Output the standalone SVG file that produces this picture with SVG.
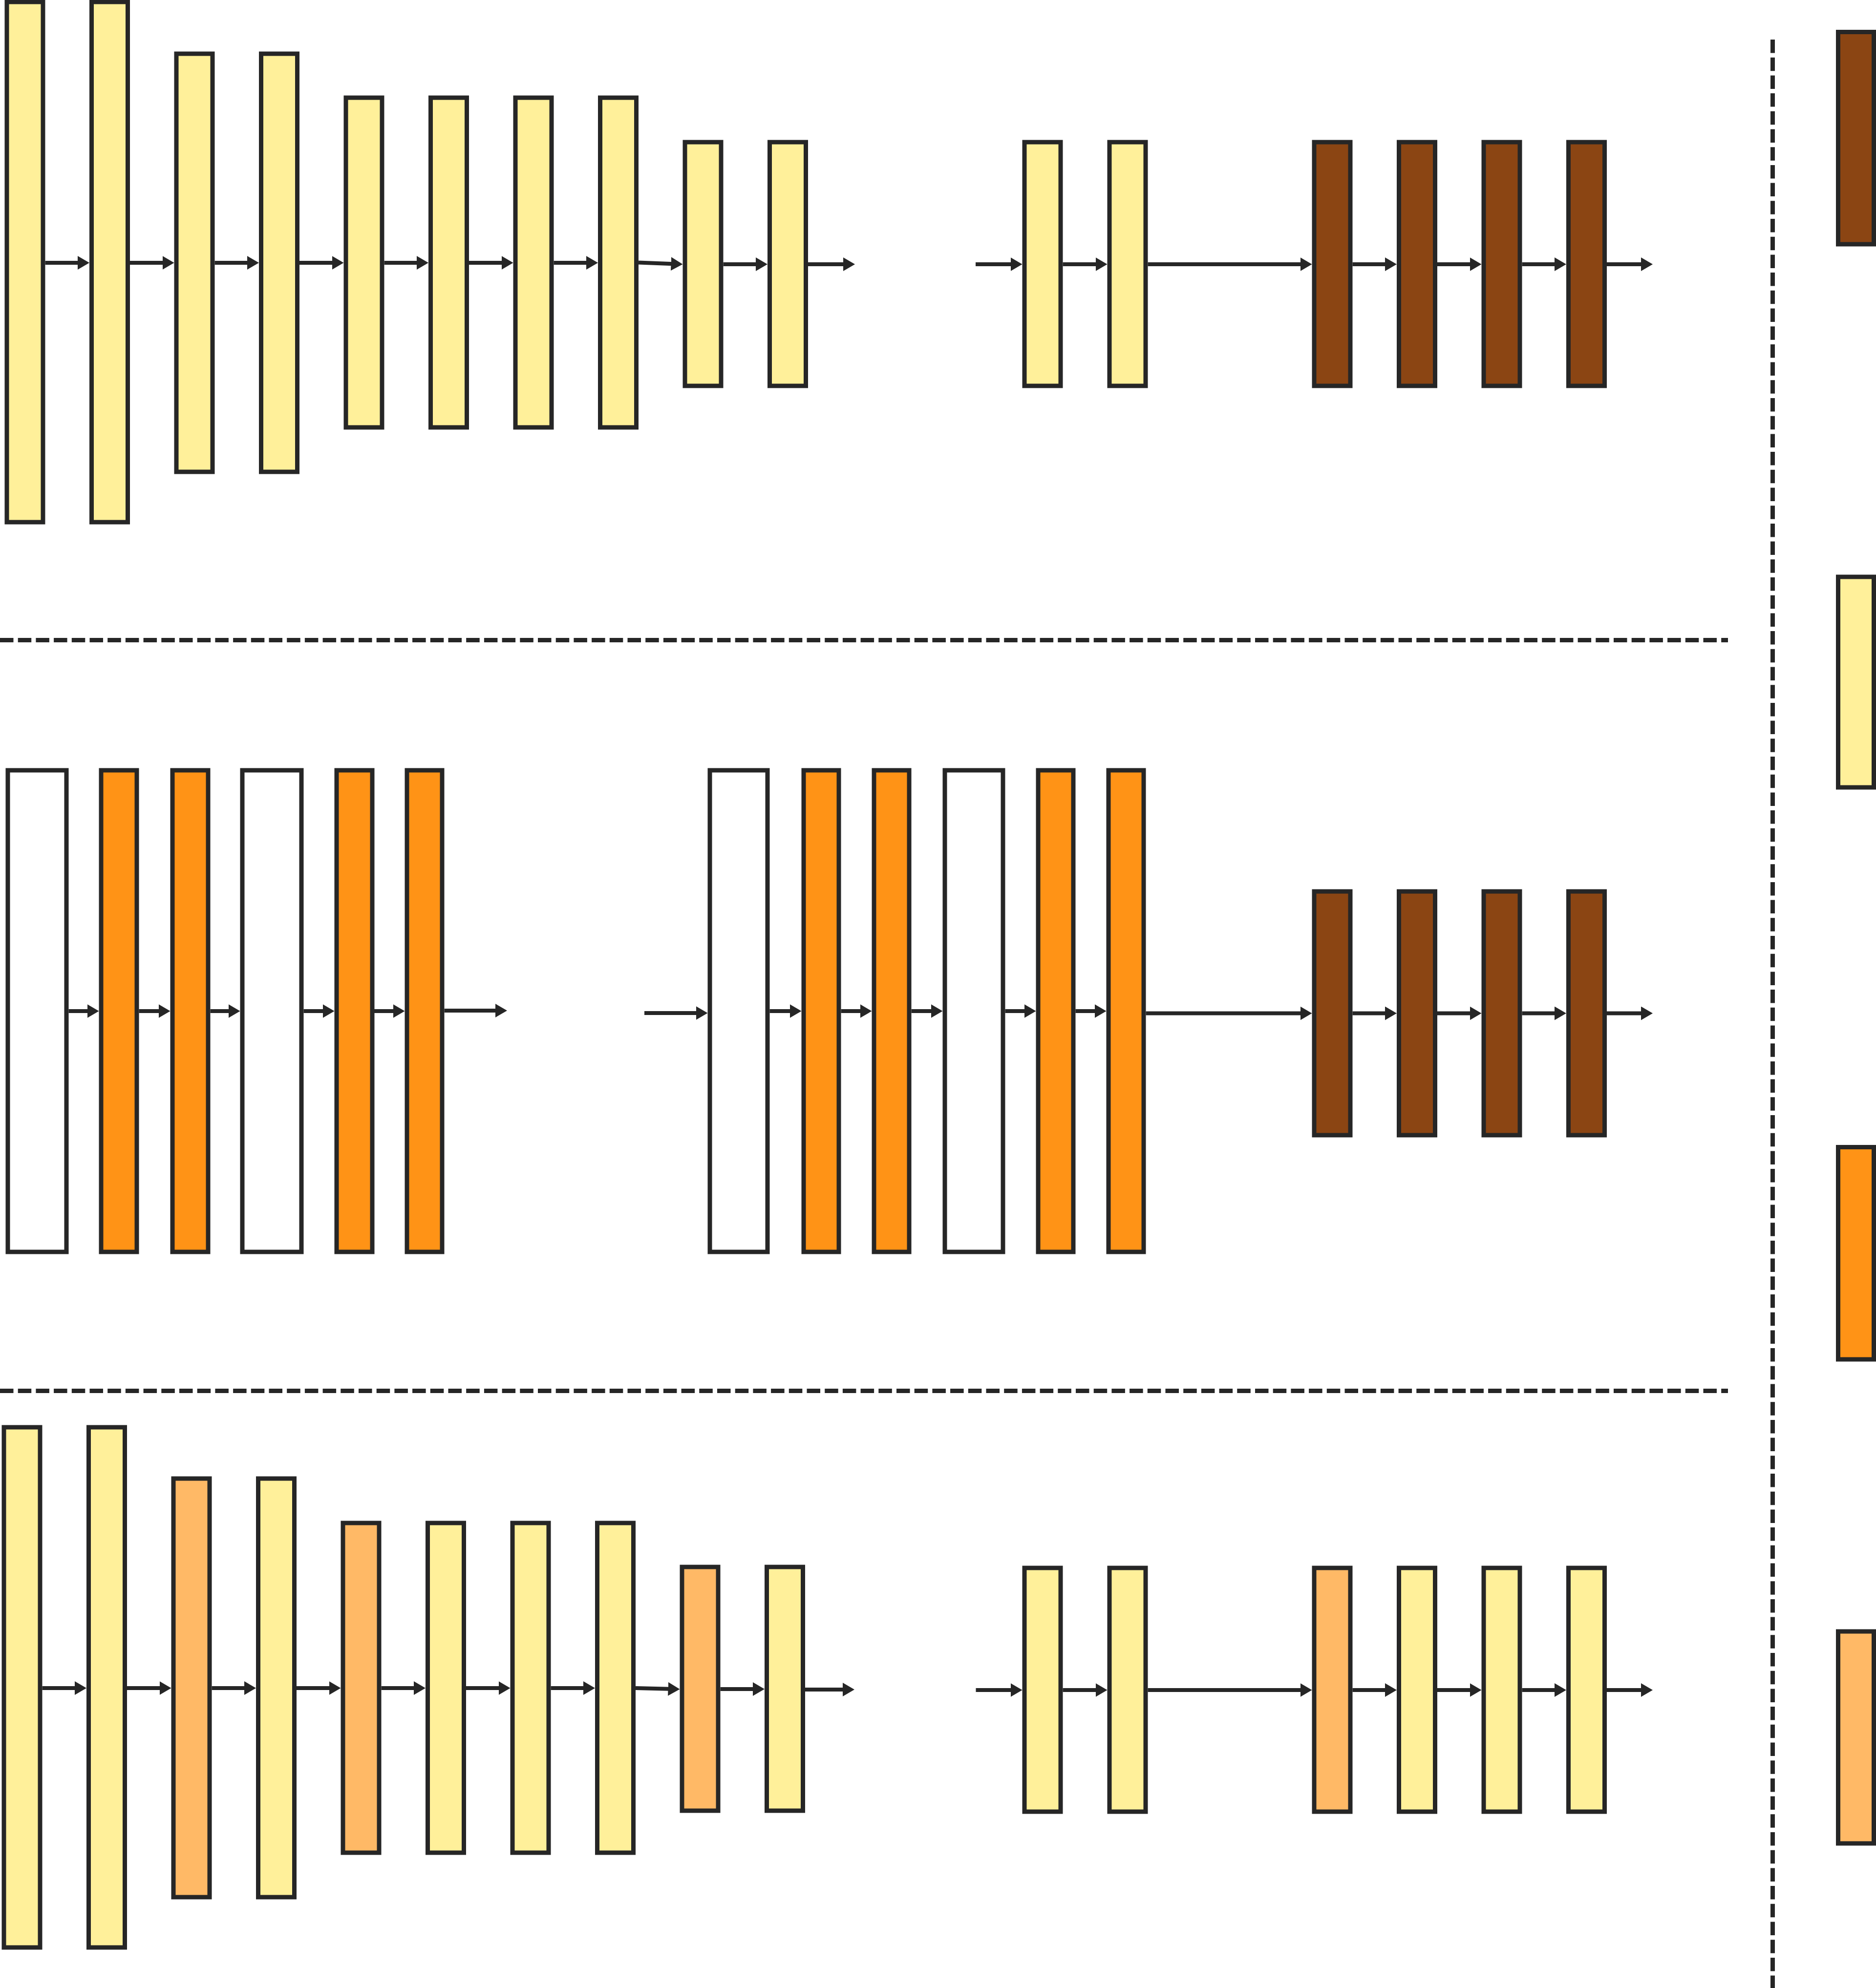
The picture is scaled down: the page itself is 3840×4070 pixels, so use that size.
<svg xmlns="http://www.w3.org/2000/svg" width="3840" height="4070" viewBox="0 0 3840 4070">
<style>
.n{stroke:#262626;stroke-width:9}
.y{fill:#FFF09A}.o{fill:#FF9316}.b{fill:#8B4513}.l{fill:#FFB966}.w{fill:#FFFFFF}
.e{stroke:#262626;stroke-width:8;fill:none;marker-end:url(#ah)}
.d{stroke:#262626;stroke-width:9;fill:none;stroke-dasharray:27.5 9.2}
</style>
<defs>
<marker id="ah" markerUnits="userSpaceOnUse" markerWidth="24" markerHeight="28" viewBox="0 0 24 28" refX="4" refY="14" orient="auto">
<path d="M0,0 L24,14 L0,28 Z" fill="#262626"/>
</marker>
</defs>
<rect x="0" y="0" width="3840" height="4070" fill="#FFFFFF"/>

<g id="separators">
<path class="d" d="M0 1310.5 L3537 1310.5"/>
<path class="d" d="M0 2847.5 L3537 2847.5"/>
<path class="d" d="M3628.5 81 L3628.5 4070"/>
</g>

<g id="row1">
<g id="r1n1"><rect class="n y" x="14" y="4" width="74" height="1065"/></g>
<g id="r1n2"><rect class="n y" x="187.5" y="4" width="74" height="1065"/></g>
<g id="r1n3"><rect class="n y" x="361" y="110" width="74" height="856"/></g>
<g id="r1n4"><rect class="n y" x="534.5" y="110" width="74" height="856"/></g>
<g id="r1n5"><rect class="n y" x="708" y="200" width="74" height="675"/></g>
<g id="r1n6"><rect class="n y" x="881.5" y="200" width="74" height="675"/></g>
<g id="r1n7"><rect class="n y" x="1055" y="200" width="74" height="675"/></g>
<g id="r1n8"><rect class="n y" x="1228.5" y="200" width="74" height="675"/></g>
<g id="r1n9"><rect class="n y" x="1402" y="291" width="74" height="499"/></g>
<g id="r1n10"><rect class="n y" x="1575.5" y="291" width="74" height="499"/></g>
<g id="r1n11"><rect class="n y" x="2097" y="291" width="74" height="499"/></g>
<g id="r1n12"><rect class="n y" x="2271" y="291" width="74" height="499"/></g>
<g id="r1n13"><rect class="n b" x="2690" y="291" width="74" height="499"/></g>
<g id="r1n14"><rect class="n b" x="2863.5" y="291" width="74" height="499"/></g>
<g id="r1n15"><rect class="n b" x="3037" y="291" width="74" height="499"/></g>
<g id="r1n16"><rect class="n b" x="3210.5" y="291" width="74" height="499"/></g>
</g>

<g id="row2">
<g id="r2n1"><rect class="n w" x="16" y="1577" width="120" height="986"/></g>
<g id="r2n2"><rect class="n o" x="207" y="1577" width="73" height="986"/></g>
<g id="r2n3"><rect class="n o" x="353" y="1577" width="73" height="986"/></g>
<g id="r2n4"><rect class="n w" x="496" y="1577" width="121" height="986"/></g>
<g id="r2n5"><rect class="n o" x="689" y="1577" width="73" height="986"/></g>
<g id="r2n6"><rect class="n o" x="833" y="1577" width="72" height="986"/></g>
<g id="r2n7"><rect class="n w" x="1453" y="1577" width="118" height="986"/></g>
<g id="r2n8"><rect class="n o" x="1645" y="1577" width="72" height="986"/></g>
<g id="r2n9"><rect class="n o" x="1789" y="1577" width="72" height="986"/></g>
<g id="r2n10"><rect class="n w" x="1934" y="1577" width="119" height="986"/></g>
<g id="r2n11"><rect class="n o" x="2125" y="1577" width="72" height="986"/></g>
<g id="r2n12"><rect class="n o" x="2269" y="1577" width="72" height="986"/></g>
<g id="r2n13"><rect class="n b" x="2690" y="1825" width="74" height="499"/></g>
<g id="r2n14"><rect class="n b" x="2863.5" y="1825" width="74" height="499"/></g>
<g id="r2n15"><rect class="n b" x="3037" y="1825" width="74" height="499"/></g>
<g id="r2n16"><rect class="n b" x="3210.5" y="1825" width="74" height="499"/></g>
</g>

<g id="row3">
<g id="r3n1"><rect class="n y" x="8" y="2922" width="74" height="1065"/></g>
<g id="r3n2"><rect class="n y" x="181.5" y="2922" width="74" height="1065"/></g>
<g id="r3n3"><rect class="n l" x="355" y="3027" width="74" height="857"/></g>
<g id="r3n4"><rect class="n y" x="528.5" y="3027" width="74" height="857"/></g>
<g id="r3n5"><rect class="n l" x="702" y="3118" width="74" height="675"/></g>
<g id="r3n6"><rect class="n y" x="875.5" y="3118" width="74" height="675"/></g>
<g id="r3n7"><rect class="n y" x="1049" y="3118" width="74" height="675"/></g>
<g id="r3n8"><rect class="n y" x="1222.5" y="3118" width="74" height="675"/></g>
<g id="r3n9"><rect class="n l" x="1396" y="3208" width="74" height="499"/></g>
<g id="r3n10"><rect class="n y" x="1569.5" y="3208" width="74" height="499"/></g>
<g id="r3n11"><rect class="n y" x="2097" y="3210" width="74" height="499"/></g>
<g id="r3n12"><rect class="n y" x="2271" y="3210" width="74" height="499"/></g>
<g id="r3n13"><rect class="n l" x="2690" y="3210" width="74" height="499"/></g>
<g id="r3n14"><rect class="n y" x="2863.5" y="3210" width="74" height="499"/></g>
<g id="r3n15"><rect class="n y" x="3037" y="3210" width="74" height="499"/></g>
<g id="r3n16"><rect class="n y" x="3210.5" y="3210" width="74" height="499"/></g>
</g>

<g id="legend">
<g id="leg-brown"><rect class="n b" x="3762.5" y="65.5" width="73" height="434.5"/></g>
<g id="leg-yellow"><rect class="n y" x="3762.5" y="1181" width="73" height="431"/></g>
<g id="leg-orange"><rect class="n o" x="3762.5" y="2348.5" width="73" height="434.5"/></g>
<g id="leg-lightorange"><rect class="n l" x="3762.5" y="3340" width="73" height="434"/></g>
</g>

<g id="connectors">
<path class="e" d="M92.5 538 L163 538"/>
<path class="e" d="M266 538 L336.5 538"/>
<path class="e" d="M439.5 538 L510 538"/>
<path class="e" d="M613 538 L683.5 538"/>
<path class="e" d="M786.5 538 L857 538"/>
<path class="e" d="M960 538 L1030.5 538"/>
<path class="e" d="M1133.5 538 L1204 538"/>
<path class="e" d="M1307 537.5 L1377.5 540.3"/>
<path class="e" d="M1480.5 541 L1551 541"/>
<path class="e" d="M1654 541 L1730 541"/>
<path class="e" d="M1997 541 L2072.5 541"/>
<path class="e" d="M2175.5 541 L2246.5 541"/>
<path class="e" d="M2349.5 541 L2665.5 541"/>
<path class="e" d="M2768.5 541 L2839 541"/>
<path class="e" d="M2942 541 L3012.5 541"/>
<path class="e" d="M3115.5 541 L3186 541"/>
<path class="e" d="M3289 541 L3363 541"/>

<path class="e" d="M140.5 2070 L182.5 2070"/>
<path class="e" d="M284.5 2070 L328.5 2070"/>
<path class="e" d="M430.5 2070 L471.5 2070"/>
<path class="e" d="M621.5 2070 L664.5 2070"/>
<path class="e" d="M765.5 2070 L808.5 2070"/>
<path class="e" d="M909.5 2069 L1018 2069"/>
<path class="e" d="M1319 2074 L1428.5 2074"/>
<path class="e" d="M1575.5 2070 L1620.5 2070"/>
<path class="e" d="M1721.5 2070 L1764.5 2070"/>
<path class="e" d="M1865.5 2070 L1909.5 2070"/>
<path class="e" d="M2057.5 2070 L2100.5 2070"/>
<path class="e" d="M2201.5 2070 L2244.5 2070"/>
<path class="e" d="M2345.5 2074.5 L2665.5 2074.5"/>
<path class="e" d="M2768.5 2074.5 L2839 2074.5"/>
<path class="e" d="M2942 2074.5 L3012.5 2074.5"/>
<path class="e" d="M3115.5 2074.5 L3186 2074.5"/>
<path class="e" d="M3289 2074.5 L3363 2074.5"/>

<path class="e" d="M86.5 3456 L157 3456"/>
<path class="e" d="M260 3456 L330.5 3456"/>
<path class="e" d="M433.5 3456 L504 3456"/>
<path class="e" d="M607 3456 L677.5 3456"/>
<path class="e" d="M780.5 3456 L851 3456"/>
<path class="e" d="M954 3456 L1024.5 3456"/>
<path class="e" d="M1127.5 3456 L1198 3456"/>
<path class="e" d="M1301 3456 L1371.5 3457.8"/>
<path class="e" d="M1474.5 3458 L1545 3458"/>
<path class="e" d="M1648 3459 L1729 3459"/>
<path class="e" d="M1997.5 3460 L2072.5 3460"/>
<path class="e" d="M2175.5 3460 L2246.5 3460"/>
<path class="e" d="M2349.5 3460 L2665.5 3460"/>
<path class="e" d="M2768.5 3460 L2839 3460"/>
<path class="e" d="M2942 3460 L3012.5 3460"/>
<path class="e" d="M3115.5 3460 L3186 3460"/>
<path class="e" d="M3289 3460 L3363 3460"/>
</g>
</svg>
